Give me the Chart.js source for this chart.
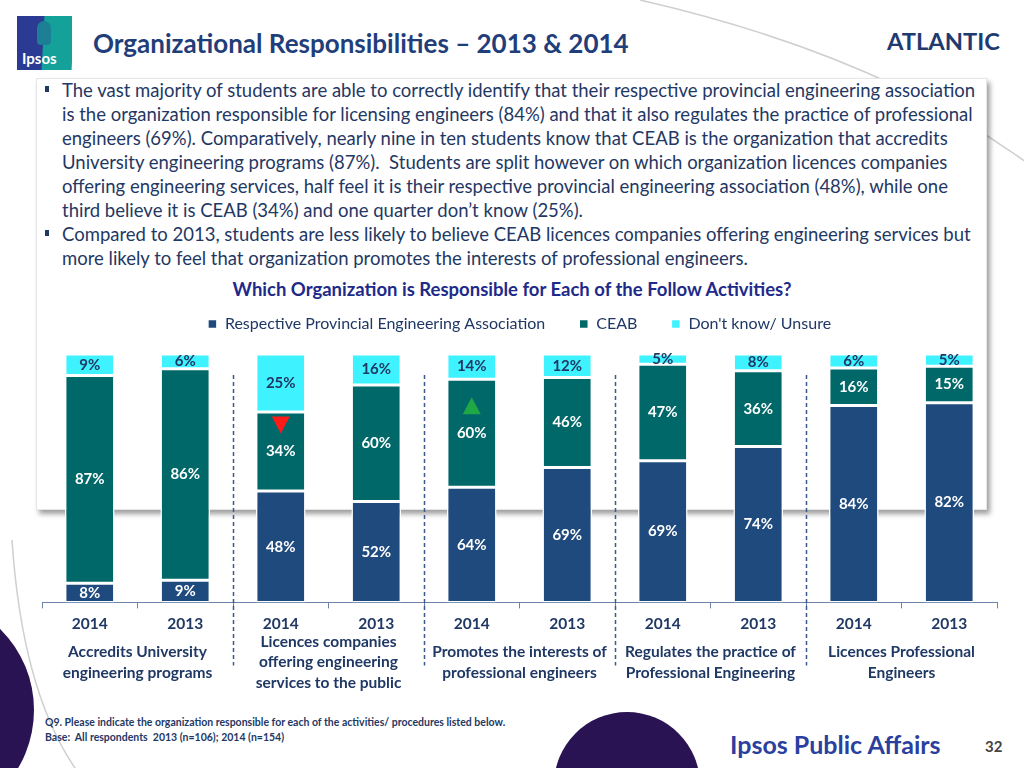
<!DOCTYPE html>
<html>
<head>
<meta charset="utf-8">
<script src="https://cdn.jsdelivr.net/npm/chart.js@4.4.1/dist/chart.umd.min.js"></script>
<style>
  body { margin: 0; width: 1024px; height: 768px; position: relative; overflow: hidden; background: #fff; font-family: Lato, 'Open Sans', sans-serif; }
  .deco { position: absolute; left: 0; top: 0; }
  .logo { position: absolute; left: 17px; top: 16px; width: 55px; height: 54px; overflow: hidden; }
  .logo .b { position: absolute; left: 0; top: 0; width: 28px; height: 54px; background: #2b3a93; }
  .logo .t { position: absolute; left: 26px; top: 0; width: 30px; height: 54px; background: #14a19a; transform: skewX(-3deg); }
  .logo .h { position: absolute; left: 20px; top: 5px; width: 14px; height: 24px; border-radius: 7px 7px 4px 4px; background: #1c7f95; }
  .logo span { position: absolute; left: 5px; top: 33px; color: #fff; font-weight: bold; font-size: 15px; }
  h1 { position: absolute; left: 93px; top: 27px; margin: 0; font-size: 26px; line-height: 32px; font-weight: bold; color: #1f3e7a; white-space: nowrap; }
  .region { position: absolute; left: 887px; top: 26px; font-size: 23.7px; line-height: 30px; font-weight: bold; color: #1f3a70; }
  .box { position: absolute; left: 36px; top: 78px; width: 951px; height: 432px; background: #fff; box-shadow: 3px 4px 5px rgba(0,0,0,0.38); border: 1px solid #e6e6e6; box-sizing: border-box; }
  .bullets { position: absolute; left: 62px; top: 78px; font-size: 18.5px; line-height: 24px; color: #1f3864; white-space: nowrap; }
  .bullets p { margin: 0; position: relative; }
  .bullets p::before { content: ''; position: absolute; left: -17px; top: 8px; width: 4px; height: 6px; background: #1f3864; }
  .sub { position: absolute; left: 0; width: 1024px; top: 277px; text-align: center; font-size: 18.5px; line-height: 24px; font-weight: bold; color: #1e2a8a; }
  .chartbox { position: absolute; left: 0; top: 282px; width: 1024px; height: 420px; }
  .note { position: absolute; left: 45px; top: 715px; font-size: 10.5px; font-weight: bold; color: #1f3864; line-height: 15px; white-space: nowrap; }
  .brand { position: absolute; left: 730px; top: 729px; font-size: 25px; font-weight: bold; color: #2b3f9e; white-space: nowrap; }
  .page { position: absolute; left: 985px; top: 737px; font-size: 15px; font-weight: bold; color: #444; }
</style>
</head>
<body>
<svg class="deco" width="1024" height="768">
  <path d="M640,0 Q880,55 1030,165" fill="none" stroke="#cfcfcf" stroke-width="1.5"/>
  <path d="M12,540 Q22,690 75,768" fill="none" stroke="#cfcfcf" stroke-width="1.5"/>
  <circle cx="-80" cy="710" r="114" fill="#2a1352"/>
  <circle cx="627" cy="785" r="73" fill="#2a1352"/>
</svg>
<div class="logo"><div class="b"></div><div class="t"></div><div class="h"></div><span>Ipsos</span></div>
<h1>Organizational Responsibilities – 2013 &amp; 2014</h1>
<div class="region">ATLANTIC</div>
<div class="box"></div>
<div class="bullets">
  <p>The vast majority of students are able to correctly identify that their respective provincial engineering association<br>is the organization responsible for licensing engineers (84%) and that it also regulates the practice of professional<br>engineers (69%). Comparatively, nearly nine in ten students know that CEAB is the organization that accredits<br>University engineering programs (87%).&nbsp; Students are split however on which organization licences companies<br>offering engineering services, half feel it is their respective provincial engineering association (48%), while one<br>third believe it is CEAB (34%) and one quarter don’t know (25%).</p>
  <p>Compared to 2013, students are less likely to believe CEAB licences companies offering engineering services but<br>more likely to feel that organization promotes the interests of professional engineers.</p>
</div>
<div class="sub">Which Organization is Responsible for Each of the Follow Activities?</div>
<div class="chartbox"><canvas id="chartOrg"></canvas></div>
<div class="note">Q9. Please indicate the organization responsible for each of the activities/ procedures listed below.<br>Base:&nbsp; All respondents&nbsp; 2013 (n=106); 2014 (n=154)</div>
<div class="brand">Ipsos Public Affairs</div>
<div class="page">32</div>

<script>
// chart values
const years = ['2014', '2013', '2014', '2013', '2014', '2013', '2014', '2013', '2014', '2013'];
const activities = [
    ['Accredits University', 'engineering programs'],
    ['Licences companies', 'offering engineering', 'services to the public'],
    ['Promotes the interests of', 'professional engineers'],
    ['Regulates the practice of', 'Professional Engineering'],
    ['Licences Professional', 'Engineers']
];
const provincial = [8, 9, 48, 52, 64, 69, 69, 74, 84, 82];
const ceab = [87, 86, 34, 60, 60, 46, 47, 36, 16, 15];
const unsure = [9, 6, 25, 16, 14, 12, 5, 8, 6, 5];
const sigDown = [2];   // CEAB lower than 2013
const sigUp = [4];     // CEAB higher than 2013

const NAVY = '#1f3864';
const FONT = 'Lato';

// bars are drawn as share of each column's total (100% stacked)
const totals = provincial.map((v, i) => v + ceab[i] + unsure[i]);
const share = arr => arr.map((v, i) => v / totals[i] * 100);

const valueLabels = {
    id: 'valueLabels',
    afterDatasetsDraw(chart) {
        const ctx = chart.ctx;
        ctx.save();
        ctx.font = 'bold 15px ' + FONT;
        ctx.textAlign = 'center';
        ctx.textBaseline = 'middle';
        chart.data.datasets.forEach((ds, di) => {
            chart.getDatasetMeta(di).data.forEach((bar, i) => {
                ctx.fillStyle = ds.labelColor;
                ctx.fillText(ds.raw[i] + '%', bar.x, (bar.y + bar.base) / 2);
            });
        });
        // significance arrows in the CEAB segment
        const meta = chart.getDatasetMeta(1);
        const tri = (i, up, color) => {
            const bar = meta.data[i];
            const cy = (bar.y + bar.base) / 2 - 27;
            ctx.fillStyle = color;
            ctx.beginPath();
            if (up) {
                ctx.moveTo(bar.x, cy - 9); ctx.lineTo(bar.x + 9, cy + 8); ctx.lineTo(bar.x - 9, cy + 8);
            } else {
                ctx.moveTo(bar.x - 9, cy - 8); ctx.lineTo(bar.x + 9, cy - 8); ctx.lineTo(bar.x, cy + 9);
            }
            ctx.closePath();
            ctx.fill();
        };
        sigDown.forEach(i => tri(i, false, '#ff1a1a'));
        sigUp.forEach(i => tri(i, true, '#1fa845'));
        ctx.restore();
    },
    afterDraw(chart) {
        const x = chart.scales.x, area = chart.chartArea, ctx = chart.ctx;
        ctx.save();
        // dashed separators between the activity groups
        ctx.strokeStyle = '#3d5a8c';
        ctx.lineWidth = 1.5;
        ctx.setLineDash([4, 3]);
        for (let k = 1; k < activities.length; k++) {
            const px = Math.round((x.getPixelForValue(2 * k - 1) + x.getPixelForValue(2 * k)) / 2) + 0.5;
            ctx.beginPath();
            ctx.moveTo(px, area.top + 21);
            ctx.lineTo(px, area.bottom + 63);
            ctx.stroke();
        }
        // activity names under each pair of years
        ctx.setLineDash([]);
        ctx.fillStyle = NAVY;
        ctx.font = 'bold 15.5px ' + FONT;
        ctx.textAlign = 'center';
        ctx.textBaseline = 'middle';
        activities.forEach((lines, k) => {
            const cx = (x.getPixelForValue(2 * k) + x.getPixelForValue(2 * k + 1)) / 2;
            const lh = 20.5;
            const y0 = area.bottom + 60 - (lines.length - 1) * lh / 2;
            lines.forEach((t, j) => ctx.fillText(t, cx, y0 + j * lh));
        });
        ctx.restore();
    }
};

const legendHeight = {
    id: 'legendHeight',
    beforeInit(chart) {
        const fit = chart.legend.fit;
        chart.legend.fit = function() {
            fit.call(this);
            this.height = 72;
        };
    }
};

document.addEventListener('DOMContentLoaded', function() {
    const ctx = document.getElementById('chartOrg').getContext('2d');

    new Chart(ctx, {
        type: 'bar',
        data: {
            labels: years,
            datasets: [
                { label: 'Respective Provincial Engineering Association', data: share(provincial), raw: provincial, backgroundColor: '#1f4a7e', labelColor: '#ffffff' },
                { label: 'CEAB', data: share(ceab), raw: ceab, backgroundColor: '#006868', labelColor: '#ffffff' },
                { label: "Don't know/ Unsure", data: share(unsure), raw: unsure, backgroundColor: '#3ff2ff', labelColor: NAVY }
            ]
        },
        options: {
            responsive: true,
            maintainAspectRatio: false,
            animation: false,
            datasets: {
                bar: {
                    borderColor: '#ffffff',
                    borderWidth: 1.5,
                    borderSkipped: false,
                    barPercentage: 0.52,
                    categoryPercentage: 1
                }
            },
            layout: { padding: { left: 42, right: 27, top: 0, bottom: 63 } },
            plugins: {
                legend: {
                    position: 'top',
                    labels: {
                        color: NAVY,
                        boxWidth: 9,
                        boxHeight: 9,
                        padding: 34,
                        font: { size: 16, family: FONT }
                    }
                },
                tooltip: { enabled: false }
            },
            scales: {
                x: {
                    stacked: true,
                    grid: { display: true, drawOnChartArea: false, drawTicks: true, tickLength: 6, color: '#6b84a8', offset: true },
                    border: { display: true, color: '#6b84a8' },
                    ticks: { color: NAVY, autoSkip: false, maxRotation: 0, padding: 6, font: { size: 15.5, weight: 'bold', family: FONT } }
                },
                y: {
                    stacked: true,
                    display: false,
                    min: 0,
                    max: 100
                }
            }
        },
        plugins: [valueLabels, legendHeight]
    });
});
</script>
</body>
</html>
